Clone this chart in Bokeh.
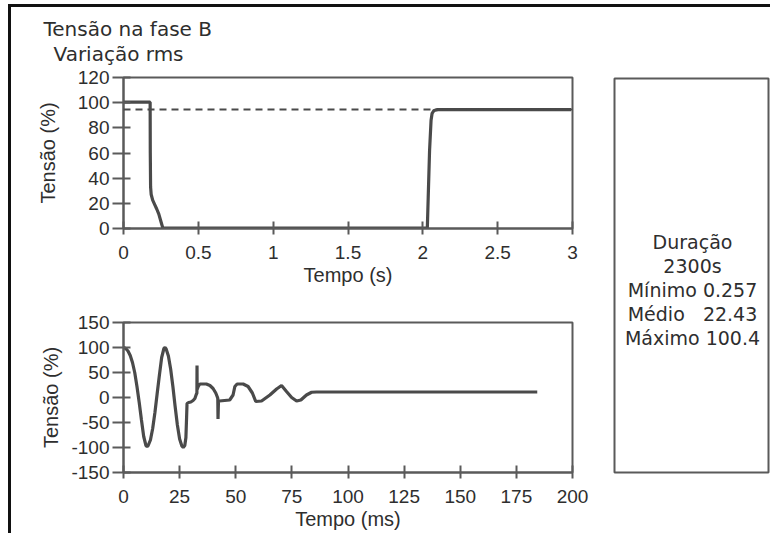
from bokeh.plotting import figure
from bokeh.layouts import row, column
from bokeh.models import Range1d, FixedTicker, Span, Title
from bokeh.core.properties import value
from bokeh.embed import file_html
from bokeh.resources import INLINE

# ---- RMS variation of phase B voltage (time in seconds, voltage in %) ----
tempo_s = [0.0, 0.178, 0.179, 0.181, 0.185, 0.195, 0.207, 0.222, 0.236, 0.252, 0.263,
           2.03, 2.036, 2.045, 2.055, 2.062, 2.075, 2.10, 2.99]
tensao_rms = [100.4, 100.4, 60.0, 33.0, 27.0, 22.5, 19.4, 15.5, 11.4, 4.8, 0.3,
              0.3, 25.0, 62.0, 86.0, 91.5, 93.8, 94.5, 94.5]
referencia_rms = 94.5
ticks_s = [0, 0.5, 1, 1.5, 2, 2.5, 3]
rotulos_s = ["0", "0.5", "1", "1.5", "2", "2.5", "3"]
ticks_rms = [0, 20, 40, 60, 80, 100, 120]
rotulos_rms = ["0", "20", "40", "60", "80", "100", "120"]

# ---- instantaneous voltage waveform (time in ms, voltage in %) ----
tempo_ms = [0, 1, 2, 3, 4, 5, 6, 7, 8, 9, 10, 10.5, 11, 12, 13, 14, 15, 16, 17, 18,
            18.5, 19, 20, 21, 22, 23, 24, 25, 26, 26.6, 27.3, 27.8, 28.1, 28.3, 29,
            30, 31, 31.8, 32.4, 32.7, 32.75, 32.8, 33.3, 34, 36.9, 38.5, 39.9, 41.1,
            41.8, 42.0, 42.1, 42.3, 42.7, 45, 47.3, 48.8, 49.6, 50.6, 53.3, 55.5,
            57.4, 58.9, 61.5, 65.2, 68.2, 70.4, 72.6, 74.9, 77.1, 79.0, 81.5, 83.8,
            86.0, 184.3]
tensao_inst = [100, 98, 93, 84, 70, 50, 22, -10, -45, -78, -96, -98, -96, -85, -62,
               -30, 8, 45, 80, 98, 100, 97, 83, 57, 22, -18, -55, -83, -97, -100, -96,
               -80, -40, -12, -10, -9, -6, -2, 6, 9, 64, 16, 22, 27, 27, 24, 18, 9,
               1, -2, -43, -8, -7, -6, -5, 5, 22, 27, 27, 22, 9, -8, -7, 5, 17, 24,
               12, 0, -7, -5, 5, 10.5, 11, 11]
ticks_ms = [0, 25, 50, 75, 100, 125, 150, 175, 200]
rotulos_ms = ["0", "25", "50", "75", "100", "125", "150", "175", "200"]
ticks_inst = [-150, -100, -50, 0, 50, 100, 150]
rotulos_inst = ["-150", "-100", "-50", "0", "50", "100", "150"]

# ---- headings and summary statistics ----
titulo = "Tensão na fase B"
subtitulo = "Variação rms"
duracao = "2300s"
minimo = "0.257"
medio = "22.43"
maximo = "100.4"
linhas_resumo = ["Duração", duracao, "Mínimo " + minimo,
                 "Médio\u00a0\u00a0 " + medio, "Máximo " + maximo]

LINE = "#4a4a4a"
AXIS = "#5a5a5a"
TEXT = "#2e2e2e"
AXIS_FONT = "Liberation Sans"
TEXT_FONT = "DejaVu Sans"


def chart(width, height, xr, yr, borders):
    left, right, top, bottom = borders
    p = figure(width=width, height=height, x_range=xr, y_range=yr,
               output_backend="svg", toolbar_location=None,
               min_border_left=left, min_border_right=right,
               min_border_top=top, min_border_bottom=bottom)
    p.title.visible = False
    p.grid.visible = False
    p.outline_line_color = AXIS
    p.outline_line_width = 2
    p.background_fill_color = "white"
    p.border_fill_color = "white"
    for ax in (p.xaxis[0], p.yaxis[0]):
        ax.axis_line_color = AXIS
        ax.axis_line_width = 2
        ax.major_tick_line_color = AXIS
        ax.major_tick_line_width = 2
        ax.minor_tick_line_color = None
        ax.major_label_text_font = AXIS_FONT
        ax.major_label_text_font_size = "19px"
        ax.major_label_text_color = TEXT
        ax.axis_label_text_font = AXIS_FONT
        ax.axis_label_text_font_size = "20px"
        ax.axis_label_text_font_style = "normal"
        ax.axis_label_text_color = TEXT
    p.xaxis.major_tick_in = 7
    p.xaxis.major_tick_out = 6
    p.xaxis.major_label_standoff = 11
    p.xaxis.axis_label_standoff = 2
    p.yaxis.major_tick_in = 7
    p.yaxis.major_tick_out = 11
    p.yaxis.major_label_standoff = 3
    return p


# RMS chart with its two heading lines
p1 = chart(600, 283, Range1d(0, 3), Range1d(0, 120), (112, 39, 70, 62))
p1.xaxis.ticker = FixedTicker(ticks=ticks_s)
p1.xaxis.major_label_overrides = dict(zip(ticks_s, rotulos_s))
p1.yaxis.ticker = FixedTicker(ticks=ticks_rms)
p1.yaxis.major_label_overrides = dict(zip(ticks_rms, rotulos_rms))
p1.xaxis.axis_label = "Tempo (s)"
p1.yaxis.axis_label = "Tensão (%)"
p1.yaxis.axis_label_standoff = 16
p1.add_layout(Span(location=referencia_rms, dimension="width", line_color=LINE,
                   line_width=2, line_dash="7 5"))
p1.line(tempo_s, tensao_rms, line_color=LINE, line_width=3.2)
p1.add_layout(Title(text=subtitulo, align="left", offset=-70, standoff=24,
                    text_font=TEXT_FONT, text_font_size="20px",
                    text_font_style="normal", text_color=TEXT), "above")
p1.add_layout(Title(text=titulo, align="left", offset=-80, standoff=-26,
                    text_font=TEXT_FONT, text_font_size="20px",
                    text_font_style="normal", text_color=TEXT), "above")

# waveform chart
p2 = chart(600, 243, Range1d(0, 200), Range1d(-150, 150), (112, 39, 32, 61))
p2.xaxis.ticker = FixedTicker(ticks=ticks_ms)
p2.xaxis.major_label_overrides = dict(zip(ticks_ms, rotulos_ms))
p2.yaxis.ticker = FixedTicker(ticks=ticks_inst)
p2.yaxis.major_label_overrides = dict(zip(ticks_inst, rotulos_inst))
p2.xaxis.axis_label = "Tempo (ms)"
p2.yaxis.axis_label = "Tensão (%)"
p2.yaxis.axis_label_standoff = 6
p2.line(tempo_ms, tensao_inst, line_color=LINE, line_width=3.2)

# summary box
box = figure(width=159, height=526, x_range=Range1d(0, 154), y_range=Range1d(472, 78),
             output_backend="svg", toolbar_location=None,
             x_axis_location=None, y_axis_location=None,
             min_border_left=3, min_border_right=2,
             min_border_top=71, min_border_bottom=61)
box.title.visible = False
box.grid.visible = False
box.outline_line_color = AXIS
box.outline_line_width = 2
baselines = [241, 265, 289, 313, 337]
box.text(x=[78] * len(linhas_resumo), y=baselines, text=linhas_resumo,
         text_font=value(TEXT_FONT), text_font_size="19px", text_color=TEXT,
         text_align="center", text_baseline="alphabetic")

# page frame: heavy rule along the top and left edges
layout = row(column(p1, p2, spacing=0), box, spacing=0,
             styles={"margin-left": "8px", "margin-top": "4px",
                     "border-left": "3px solid #111111",
                     "border-top": "3px solid #111111"})

open("out.html", "w").write(file_html(layout, INLINE))
